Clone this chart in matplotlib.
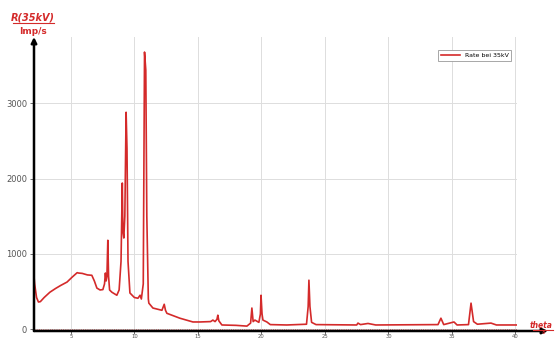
import matplotlib.pyplot as plt
from matplotlib.lines import Line2D

theta = [2.0, 2.05, 2.15, 2.3, 2.45, 2.6, 2.9, 3.35, 3.8, 4.2, 4.7, 5.1, 5.5, 5.6, 5.9,
         6.3, 6.65, 6.85, 7.05, 7.3, 7.52, 7.65, 7.72, 7.78, 7.84, 7.91, 7.97, 8.05,
         8.23, 8.62, 8.8, 8.95, 9.05, 9.1, 9.17, 9.25, 9.35, 9.42, 9.5, 9.65, 10.0,
         10.28, 10.45, 10.55, 10.7, 10.8, 10.9, 10.98, 11.1, 11.14, 11.46, 12.17,
         12.35, 12.45, 12.56, 13.58, 14.61, 15.16, 16.0, 16.18, 16.35, 16.5, 16.57,
         16.65, 16.89, 18.0, 18.86, 19.15, 19.25, 19.35, 19.49, 19.8, 19.92, 19.97,
         20.05, 20.12, 20.43, 20.7, 22.0, 23.55, 23.68, 23.74, 23.82, 23.95, 24.3,
         27.5, 27.6, 27.8, 28.39, 29.0, 33.9, 34.13, 34.35, 35.16, 35.4, 36.3, 36.5,
         36.7, 37.0, 38.07, 38.5, 40.1]
rate = [920, 800, 600, 420, 360, 365, 420, 490, 540, 580, 625, 690, 750, 745, 740,
        720, 715, 640, 545, 520, 525, 600, 745, 640, 700, 1180, 700, 520,
        490, 450, 520, 900, 1940, 1300, 1210, 1500, 2880, 2400, 900, 480, 420,
        410, 450, 400, 600, 3680, 3440, 1500, 400, 345, 280, 250,
        330, 250, 210, 145, 95, 95, 100, 120, 100, 130, 185,
        110, 55, 50, 40, 80, 280, 100, 120, 90, 200, 450,
        200, 120, 95, 60, 55, 65, 300, 650, 300, 90, 60,
        55, 80, 60, 75, 55, 60, 145, 60, 95, 55, 60, 345,
        100, 65, 80, 55, 55]

xticks = [5, 10, 15, 20, 25, 30, 35, 40]
yticks = [0, 1000, 2000, 3000]

red = '#d42a2a'

fig = plt.figure(figsize=(5.55, 3.4), dpi=100)
ax = fig.add_axes([34 / 555, 9 / 340, 483.4 / 555, 294 / 340])

ax.plot(theta, rate, color=red, lw=1.2, label='Rate bei 35kV')
ax.axhline(0, color=red, lw=0.6, ls=':', alpha=0.7)

ax.set_xlim(2.1, 40.15)
ax.set_ylim(-25, 3880)
ax.set_xticks(xticks)
ax.set_yticks(yticks)
ax.grid(True, color='#dddddd', lw=0.7)
ax.tick_params(labelsize=6, colors='#555555', length=3, width=0.6, pad=2)
ax.tick_params(axis='x', labelsize=3.8, length=2, pad=0.3)

for s in ax.spines.values():
    s.set_visible(False)

# Achsen mit Pfeilen
ax.annotate('', xy=(0, 1.0), xytext=(0, 0), xycoords='axes fraction',
            arrowprops=dict(arrowstyle='-|>', color='black', lw=1.8,
                            mutation_scale=8, shrinkA=0, shrinkB=0))
ax.annotate('', xy=(548 / 555, 9 / 340), xytext=(34 / 555, 9 / 340),
            xycoords='figure fraction',
            arrowprops=dict(arrowstyle='-|>', color='black', lw=1.8,
                            mutation_scale=8, shrinkA=0, shrinkB=0))

leg = ax.legend(loc='upper right', bbox_to_anchor=(0.987, 0.955), fontsize=4.5,
                fancybox=False, framealpha=1, borderaxespad=0, handlelength=3)
leg.get_frame().set_edgecolor('#999999')
leg.get_frame().set_linewidth(0.6)

# Achsenbeschriftungen
fig.text(33 / 555, 1 - 17 / 340, 'R(35kV)', color=red, fontsize=7, style='italic',
         fontweight='bold', ha='center', va='center')
fig.add_artist(Line2D([13 / 555, 54 / 555], [1 - 23 / 340, 1 - 23 / 340], color=red, lw=0.8))
fig.text(33 / 555, 1 - 31 / 340, 'Imp/s', color=red, fontsize=6.5,
         fontweight='bold', ha='center', va='center')

fig.text(553 / 555, 1 - 325 / 340, 'theta', color=red, fontsize=5.5, style='italic',
         fontweight='bold', ha='right', va='center')
fig.add_artist(Line2D([533 / 555, 553 / 555], [1 - 330 / 340, 1 - 330 / 340], color=red, lw=0.8))
fig.text(543 / 555, 1 - 335 / 340, '°', color=red, fontsize=5,
         fontweight='bold', ha='center', va='center')

fig.savefig('out.png', dpi=100)
